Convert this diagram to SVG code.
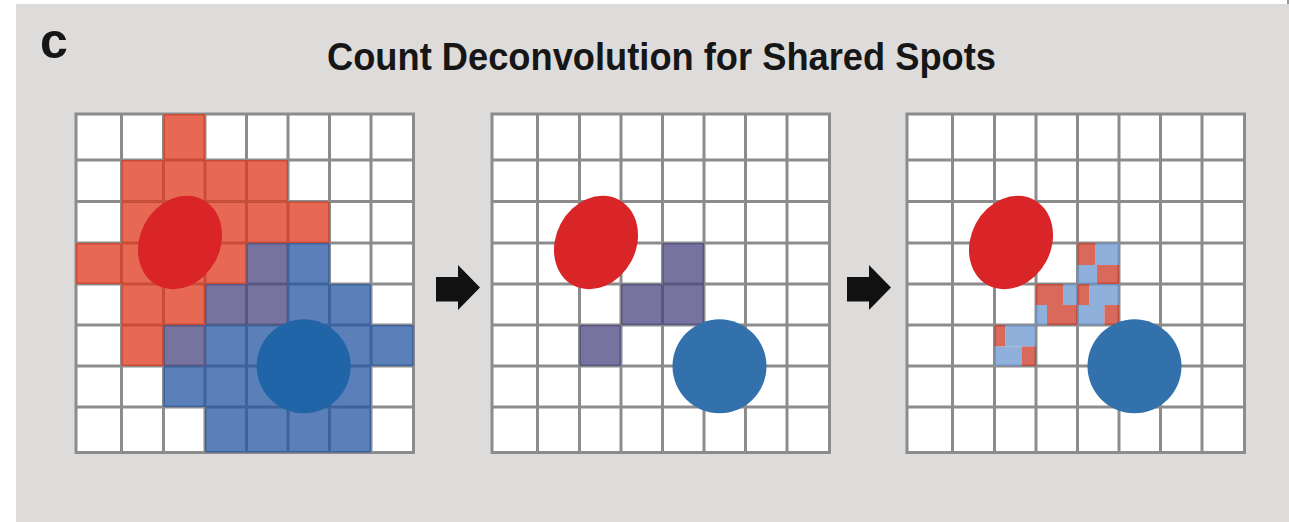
<svg xmlns="http://www.w3.org/2000/svg" xmlns:xlink="http://www.w3.org/1999/xlink" width="1289" height="522" viewBox="0 0 1289 522">
  <style>
    .label { font-family: "Liberation Sans", Arial, sans-serif; font-weight: bold; fill: #161616; }
    .gridlines { fill: none; stroke: #8c8c8c; stroke-width: 3; stroke-linecap: square; }
    .cell { fill-opacity: 0.75; }
    .org { fill: #e0371a; }
    .blu { fill: #2454a0; }
    .pur { fill: #4a447f; }
    .mred { fill: #cc3723; }
    .mblu { fill: #6896ce; }
    .cellA { fill: #d92428; }
    .cellB { fill: #3371ac; }
    .arrow { fill: #111111; }
  </style>
  <defs>
    <!-- 8x8 spot grid in local x coordinates; rows share absolute y -->
    <g id="grid">
      <rect x="0" y="114" width="337.5" height="338.5" fill="#ffffff"/>
      <path class="gridlines" d="M0,114V452.5M45.5,114V452.5M87.5,114V452.5M129,114V452.5M170.5,114V452.5M212,114V452.5M253.5,114V452.5M295,114V452.5M337.5,114V452.5M0,114H337.5M0,160H337.5M0,201.5H337.5M0,243H337.5M0,284H337.5M0,325H337.5M0,366H337.5M0,407H337.5M0,452.5H337.5"/>
    </g>
    <ellipse id="cellShapeA" cx="104" cy="242.5" rx="40" ry="48.5" transform="rotate(28 104 242.5)"/>
    <path id="arrowShape" d="M0,277H22V265L44,287.5L22,310V301.5H0Z"/>
  </defs>

  <!-- page background -->
  <rect x="0" y="0" width="1289" height="522" fill="#ffffff"/>
  <rect x="16" y="4" width="1273" height="518" fill="#dddcda"/>
  <rect x="1287" y="0" width="2" height="4" fill="#9a9a9a"/>

  <text class="label" x="40" y="58" font-size="50">c</text>
  <text class="label" x="661.5" y="70" font-size="39" text-anchor="middle" textLength="669" lengthAdjust="spacingAndGlyphs">Count Deconvolution for Shared Spots</text>

  <!-- panel 1: overlapping spot counts of both cells -->
  <g id="panel-raw" transform="translate(76 0)">
    <use xlink:href="#grid"/>
    <g class="cell org">
      <rect x="87.5" y="114" width="41.5" height="46"/>
      <rect x="45.5" y="160" width="166.5" height="41.5"/>
      <rect x="45.5" y="201.5" width="208" height="41.5"/>
      <rect x="0" y="243" width="170.5" height="41"/>
      <rect x="45.5" y="284" width="83.5" height="41"/>
      <rect x="45.5" y="325" width="42" height="41"/>
    </g>
    <g class="cell pur">
      <rect x="170.5" y="243" width="41.5" height="41"/>
      <rect x="129" y="284" width="83" height="41"/>
      <rect x="87.5" y="325" width="41.5" height="41"/>
    </g>
    <g class="cell blu">
      <rect x="212" y="243" width="41.5" height="41"/>
      <rect x="212" y="284" width="83" height="41"/>
      <rect x="129" y="325" width="208.5" height="41"/>
      <rect x="87.5" y="366" width="207.5" height="41"/>
      <rect x="129" y="407" width="166" height="45.5"/>
    </g>
    <use xlink:href="#cellShapeA" class="cellA"/>
    <circle cx="227.7" cy="366.3" r="47" fill="#2065a8"/>
  </g>

  <!-- panel 2: shared spots only -->
  <g id="panel-shared" transform="translate(492 0)">
    <use xlink:href="#grid"/>
    <g class="cell pur">
      <rect x="170.5" y="243" width="41.5" height="41"/>
      <rect x="129" y="284" width="83" height="41"/>
      <rect x="87.5" y="325" width="41.5" height="41"/>
    </g>
    <use xlink:href="#cellShapeA" class="cellA"/>
    <circle class="cellB" cx="227.5" cy="366.3" r="47"/>
  </g>

  <!-- panel 3: shared spots split into per-cell counts -->
  <g id="panel-split" transform="translate(907 0)">
    <use xlink:href="#grid"/>
    <g class="cell">
      <!-- row 3, col 4 -->
      <rect class="mred" x="170.5" y="243" width="18" height="22"/>
      <rect class="mblu" x="188.5" y="243" width="23.5" height="22"/>
      <rect class="mblu" x="170.5" y="265" width="19.5" height="19"/>
      <rect class="mred" x="190" y="265" width="22" height="19"/>
      <!-- row 4, col 3 -->
      <rect class="mred" x="129" y="284" width="27.5" height="21"/>
      <rect class="mblu" x="156.5" y="284" width="14" height="21"/>
      <rect class="mblu" x="129" y="305" width="11" height="20"/>
      <rect class="mred" x="140" y="305" width="30.5" height="20"/>
      <!-- row 4, col 4 -->
      <rect class="mred" x="170.5" y="284" width="12" height="21"/>
      <rect class="mblu" x="182.5" y="284" width="29.5" height="21"/>
      <rect class="mblu" x="170.5" y="305" width="27" height="20"/>
      <rect class="mred" x="197.5" y="305" width="14.5" height="20"/>
      <!-- row 5, col 2 -->
      <rect class="mred" x="87.5" y="325" width="11" height="21.5"/>
      <rect class="mblu" x="98.5" y="325" width="30.5" height="21.5"/>
      <rect class="mblu" x="87.5" y="346.5" width="27.5" height="19.5"/>
      <rect class="mred" x="115" y="346.5" width="14" height="19.5"/>
    </g>
    <use xlink:href="#cellShapeA" class="cellA"/>
    <circle class="cellB" cx="227.5" cy="366.3" r="47"/>
  </g>

  <!-- step arrows between panels -->
  <g id="connectors">
    <use xlink:href="#arrowShape" class="arrow" x="436"/>
    <use xlink:href="#arrowShape" class="arrow" x="847"/>
  </g>
</svg>
